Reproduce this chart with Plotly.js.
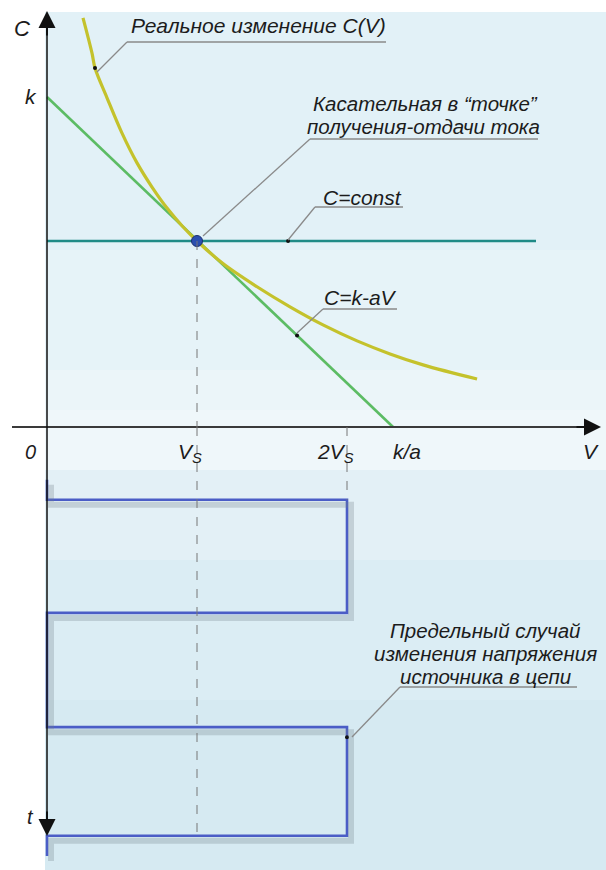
<!DOCTYPE html>
<html>
<head>
<meta charset="utf-8">
<script src="https://cdn.plot.ly/plotly-3.0.1.min.js"></script>
<style>html,body{margin:0;padding:0;background:#fff;}#chart{width:606px;height:870px;}</style>
</head>
<body>
<div id="chart"></div>
<script>
// ---- data (V in units of Vs, C in units of Cs, t in half-periods) ----
const curveV = [0.24, 0.30, 0.32, 0.40, 0.50, 0.60, 0.70, 0.80, 0.90, 1.0, 1.173, 1.40, 1.62, 1.84, 2.067, 2.287, 2.507, 2.867];
const curveC = [2.20, 2.01, 1.93, 1.77, 1.58, 1.42, 1.29, 1.177, 1.082, 1.0, 0.879, 0.754, 0.646, 0.549, 0.463, 0.393, 0.334, 0.258];
const tangentV = [0, 2.307];
const tangentC = [1.774, 0];
const constV = [0, 3.26];
const constC = [1, 1];
const pointV = [1];
const pointC = [1];
const waveV = [0, 0, 2, 2, 0, 0, 2, 2, 0, 0];
const waveT = [0.47, 0.65, 0.65, 1.66, 1.66, 2.68, 2.68, 3.65, 3.65, 3.83];
const calloutDotV = [0.32, 1.607, 1.667];
const calloutDotC = [1.93, 1, 0.492];
const waveDotV = [2];
const waveDotT = [2.77];
const axisLabels = ["0", "V<sub>S</sub>", "2V<sub>S</sub>", "k/a", "V"];

// ---- page geometry helpers ----
const W = 606, H = 870;
const XS = 150, X0 = 47;      // px per V unit, px of V=0
const YC = 186, Y0 = 427;     // px per C unit, px of C=0 / t=0
const YT = 112;               // px per t unit
const vx = px => (px - X0) / XS;
const cy = py => (Y0 - py) / YC;
const ty = py => (py - Y0) / YT;
const P = (x, y) => ({x: x / W, y: 1 - y / H});
const FONT = "Liberation Sans, Arial, Helvetica, sans-serif";
const ink = "#1c1c1c";

const shapes = [];
// background panel with soft vertical gradient
const bands = [
  [12, 120, "#e2f1f7"], [120, 250, "#e2f1f7"], [250, 370, "#e6f3f8"], [370, 410, "#ebf5f9"],
  [410, 470, "#eff7fa"], [470, 560, "#e3f0f6"], [560, 700, "#dbedf4"], [700, 870, "#d6eaf2"]
];
bands.forEach(b => shapes.push({type: "rect", xref: "paper", yref: "paper", layer: "below",
  x0: 45 / W, x1: 1, y0: 1 - b[1] / H, y1: 1 - b[0] / H, fillcolor: b[2], line: {width: 0}}));

function pline(x0, y0, x1, y1, color, width, dash) {
  const a = P(x0, y0), b = P(x1, y1);
  shapes.push({type: "line", xref: "paper", yref: "paper", x0: a.x, y0: a.y, x1: b.x, y1: b.y,
    line: {color: color, width: width, dash: dash || "solid"}});
}
// axes lines
pline(12, 427, 590, 427, "#3a3a3a", 2.2);
pline(47, 24, 47, 824, "#111", 1.5);
// callout leaders and underlines
const lead = "#8a8a8a";
pline(97, 72, 127, 42, lead, 1.3); pline(127, 42, 386, 42, lead, 1.6);
pline(203, 236, 310, 139, lead, 1.3); pline(310, 139, 538, 139, lead, 1.6);
pline(288, 240, 315, 207, lead, 1.3); pline(315, 207, 403, 207, lead, 1.6);
pline(297, 333, 323, 309, lead, 1.3); pline(323, 309, 397, 309, lead, 1.6);
pline(352, 737, 400, 687, lead, 1.3); pline(400, 687, 577, 687, lead, 1.6);

// dashed guide lines at Vs and 2Vs
shapes.push({type: "line", xref: "x", yref: "y", x0: pointV[0], x1: pointV[0], y0: pointC[0], y1: 0,
  line: {color: "#777", width: 1, dash: "dash"}});
shapes.push({type: "line", xref: "x", yref: "y2", x0: pointV[0], x1: pointV[0], y0: 0, y1: waveT[7],
  line: {color: "#777", width: 1, dash: "dash"}});
shapes.push({type: "line", xref: "x", yref: "y2", x0: waveV[2], x1: waveV[2], y0: 0, y1: waveT[1],
  line: {color: "#777", width: 1, dash: "dash"}});

const traces = [
  // soft shadow of the square wave (same data, axes shifted a few pixels)
  {x: waveV, y: waveT, xaxis: "x2", yaxis: "y3", mode: "lines", line: {color: "rgba(110,125,135,0.28)", width: 6}, hoverinfo: "skip"},
  {x: constV, y: constC, mode: "lines", line: {color: "#1e8a86", width: 2.6}, hoverinfo: "skip"},
  {x: tangentV, y: tangentC, mode: "lines", line: {color: "#5cbc64", width: 2.6}, hoverinfo: "skip"},
  {x: curveV, y: curveC, mode: "lines", line: {color: "#c4c22c", width: 3.2, shape: "spline", smoothing: 1}, hoverinfo: "skip"},
  {x: waveV, y: waveT, yaxis: "y2", mode: "lines", line: {color: "#4b5dc6", width: 2.6}, hoverinfo: "skip"},
  {x: pointV, y: pointC, mode: "markers", marker: {color: "#2a4fb0", size: 11, line: {color: "#1b2f70", width: 1}}, hoverinfo: "skip"},
  {x: calloutDotV, y: calloutDotC, mode: "markers", marker: {color: "#111", size: 4}, hoverinfo: "skip"},
  {x: waveDotV, y: waveDotT, yaxis: "y2", mode: "markers", marker: {color: "#111", size: 4}, hoverinfo: "skip"}
];

const ann = [];
function txt(text, x, y, size, xanchor) {
  const p = P(x, y);
  ann.push({xref: "paper", yref: "paper", x: p.x, y: p.y, text: "<i>" + text + "</i>", showarrow: false,
    xanchor: xanchor || "center", yanchor: "middle", font: {family: FONT, size: size, color: ink}});
}
function arrowHead(x, y, ax, ay, color) {
  const p = P(x, y);
  ann.push({xref: "paper", yref: "paper", x: p.x, y: p.y, ax: ax, ay: ay, text: "", showarrow: true,
    arrowhead: 2, arrowsize: 1.7, arrowwidth: 2, arrowcolor: color, standoff: 0});
}
// axis arrowheads
arrowHead(601, 427, -26, 0, "#111");
arrowHead(47, 11, 0, 26, "#111");
arrowHead(47, 836, 0, -26, "#111");
// axis labels
txt("C", 22, 28, 22);
txt("k", 31, 97, 21);
txt(axisLabels[0], 30, 452, 20);
txt(axisLabels[1], 190, 453, 21);
txt(axisLabels[2], 335, 453, 21);
txt(axisLabels[3], 407, 452, 21);
txt(axisLabels[4], 591, 452, 21);
txt("t", 30, 817, 20);
// callout texts
txt("Реальное изменение C(V)", 129, 25, 21, "left");
txt("Касательная в “точке”", 425, 104, 20.5);
txt("получения-отдачи тока", 423, 126, 20.5);
txt("C=const", 321, 197, 21, "left");
txt("C=k-aV", 322, 297, 21, "left");
txt("Предельный случай", 485, 630, 20.5);
txt("изменения напряжения", 485, 653, 20.5);
txt("источника в цепи", 485, 676, 20.5);

const layout = {
  width: W, height: H, margin: {l: 0, r: 0, t: 0, b: 0},
  paper_bgcolor: "#ffffff", plot_bgcolor: "rgba(0,0,0,0)", showlegend: false,
  xaxis: {range: [vx(0), vx(W)], visible: false, fixedrange: true},
  xaxis2: {range: [vx(-4), vx(W - 4)], visible: false, fixedrange: true, overlaying: "x"},
  yaxis: {range: [cy(H), cy(0)], visible: false, fixedrange: true, domain: [0, 1]},
  yaxis2: {range: [ty(H), ty(0)], visible: false, fixedrange: true, overlaying: "y"},
  yaxis3: {range: [ty(H - 5), ty(-5)], visible: false, fixedrange: true, overlaying: "y"},
  shapes: shapes, annotations: ann
};
Plotly.newPlot("chart", traces, layout, {staticPlot: true, displayModeBar: false});
</script>
</body>
</html>
